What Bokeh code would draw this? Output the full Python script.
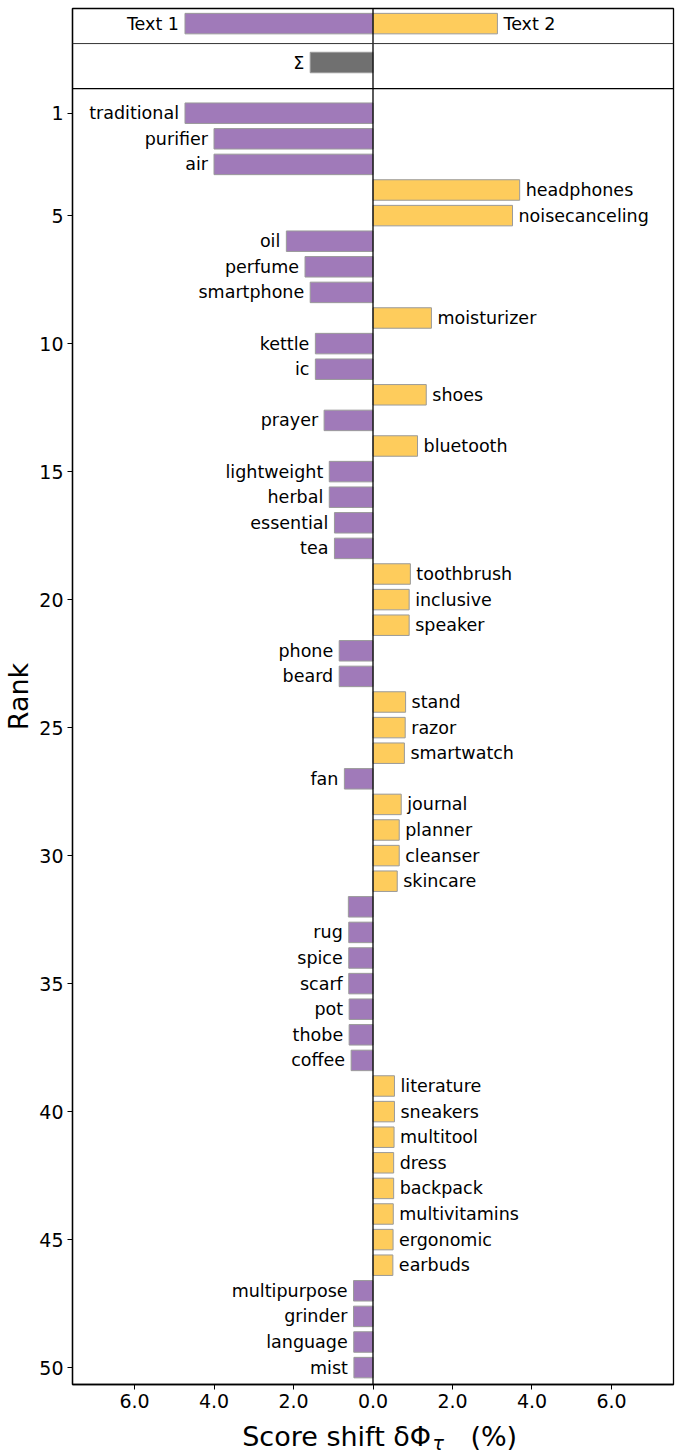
from bokeh.plotting import figure
from bokeh.models import ColumnDataSource, Span, FixedTicker, Range1d
from bokeh.layouts import column
from bokeh.core.properties import value
from bokeh.embed import file_html
from bokeh.resources import INLINE

# ---- data ----
words = ["traditional", "purifier", "air", "headphones", "noisecanceling", "oil", "perfume",
         "smartphone", "moisturizer", "kettle", "ic", "shoes", "prayer", "bluetooth",
         "lightweight", "herbal", "essential", "tea", "toothbrush", "inclusive", "speaker",
         "phone", "beard", "stand", "razor", "smartwatch", "fan", "journal", "planner",
         "cleanser", "skincare", "", "rug", "spice", "scarf", "pot", "thobe", "coffee",
         "literature", "sneakers", "multitool", "dress", "backpack", "multivitamins",
         "ergonomic", "earbuds", "multipurpose", "grinder", "language", "mist"]
shifts = [-4.73, -4.00, -4.00, 3.69, 3.51, -2.18, -1.71,
          -1.58, 1.47, -1.45, -1.45, 1.34, -1.23, 1.12,
          -1.10, -1.10, -0.97, -0.97, 0.94, 0.91, 0.91,
          -0.85, -0.85, 0.82, 0.81, 0.79, -0.72, 0.71, 0.66,
          0.66, 0.61, -0.62, -0.61, -0.61, -0.61, -0.60, -0.60, -0.55,
          0.54, 0.54, 0.53, 0.52, 0.52, 0.51,
          0.505, 0.50, -0.49, -0.49, -0.485, -0.48]
ranks = list(range(1, len(words) + 1))

total_labels = ["Text 1", "Text 2"]
total_values = [-4.73, 3.13]
sum_label = "Σ"
sum_value = -1.58

x_ticks = [-6, -4, -2, 0, 2, 4, 6]
x_tick_labels = ["6.0", "4.0", "2.0", "0.0", "2.0", "4.0", "6.0"]
y_ticks = [1, 5, 10, 15, 20, 25, 30, 35, 40, 45, 50]
x_label_parts = ["Score shift δΦ", "τ", "(%)"]

# ---- styling ----
PURPLE = "#A07AB9"
YELLOW = "#FECC5C"
GRAY = "#707070"
EDGE = "#9A9A9A"
FONT = "DejaVu Sans"

TEXT_ROW = -2.5
SUM_ROW = -0.98
SEP1 = -1.72
SEP2 = 0.04

xr = Range1d(-7.56, 7.56)
p = figure(frame_width=601, frame_height=1376, output_backend="svg", toolbar_location=None,
           x_range=xr, y_range=Range1d(50.66, -3.09),
           min_border_left=72, min_border_right=11, min_border_top=8, min_border_bottom=0)

colors = [PURPLE if v < 0 else YELLOW for v in shifts]
src = ColumnDataSource(dict(y=ranks, v=shifts, c=colors, w=words,
                            xo=[-6 if v < 0 else 6 for v in shifts],
                            al=["right" if v < 0 else "left" for v in shifts]))
p.hbar(y="y", left=0, right="v", height=0.8, fill_color="c", line_color=EDGE,
       line_width=1, source=src)
p.text(x="v", y="y", text="w", x_offset="xo", text_align="al", text_baseline="middle",
       text_font=value(FONT), text_font_size="17.5px", text_color="black", source=src)

tsrc = ColumnDataSource(dict(y=[TEXT_ROW, TEXT_ROW], v=total_values, w=total_labels,
                             c=[PURPLE, YELLOW], xo=[-6, 6], al=["right", "left"]))
p.hbar(y="y", left=0, right="v", height=0.8, fill_color="c", line_color=EDGE,
       line_width=1, source=tsrc)
p.text(x="v", y="y", text="w", x_offset="xo", text_align="al", text_baseline="middle",
       text_font=value(FONT), text_font_size="17.5px", text_color="black", source=tsrc)

ssrc = ColumnDataSource(dict(y=[SUM_ROW], v=[sum_value], w=[sum_label]))
p.hbar(y="y", left=0, right="v", height=0.8, fill_color=GRAY, line_color=EDGE,
       line_width=1, source=ssrc)
p.text(x="v", y="y", text="w", x_offset=-6, text_align="right", text_baseline="middle",
       text_font=value(FONT), text_font_size="17.5px", text_color="black", source=ssrc)

p.add_layout(Span(location=0, dimension="height", line_color="black", line_width=1.3))
p.add_layout(Span(location=SEP1, dimension="width", line_color="#333333", line_width=1))
p.add_layout(Span(location=SEP2, dimension="width", line_color="black", line_width=1.3))

p.xgrid.visible = False
p.ygrid.visible = False
p.outline_line_color = "black"
p.outline_line_width = 1.3

for ax in (p.xaxis[0], p.yaxis[0]):
    ax.axis_line_color = "black"
    ax.axis_line_width = 1.3
    ax.major_tick_out = 5
    ax.major_tick_in = 0
    ax.minor_tick_out = 0
    ax.minor_tick_in = 0
    ax.major_tick_line_color = "black"
    ax.major_label_text_font = FONT
    ax.major_label_text_font_size = "19px"
    ax.major_label_text_color = "black"
    ax.major_label_standoff = 4

p.xaxis.ticker = FixedTicker(ticks=x_ticks)
p.xaxis.major_label_overrides = {t: l for t, l in zip(x_ticks, x_tick_labels)}
p.yaxis.ticker = FixedTicker(ticks=y_ticks)
p.yaxis.axis_label = "Rank"
p.yaxis.axis_label_text_font = FONT
p.yaxis.axis_label_text_font_size = "27px"
p.yaxis.axis_label_text_font_style = "normal"
p.yaxis.axis_label_text_color = "black"
p.yaxis.axis_label_standoff = 2

# x axis label strip (with subscript); y measured in px from the strip top
q = figure(frame_width=601, frame_height=40, output_backend="svg", toolbar_location=None,
           x_range=xr, y_range=Range1d(40, 0), x_axis_location=None, y_axis_location=None,
           min_border_left=72, min_border_right=11, min_border_top=0, min_border_bottom=0)
q.grid.visible = False
q.outline_line_color = None
lsrc = ColumnDataSource(dict(x=[-3.29, 1.5, 2.45], y=[26, 32, 26],
                             t=x_label_parts, fs=["27px", "19px", "27px"],
                             st=["normal", "italic", "normal"]))
q.text(x="x", y="y", text="t", text_font=value(FONT), text_font_size="fs",
       text_font_style="st", text_align="left", text_baseline="alphabetic",
       text_color="black", source=lsrc)

layout = column(p, q, spacing=0)
open("out.html", "w").write(file_html(layout, INLINE))
